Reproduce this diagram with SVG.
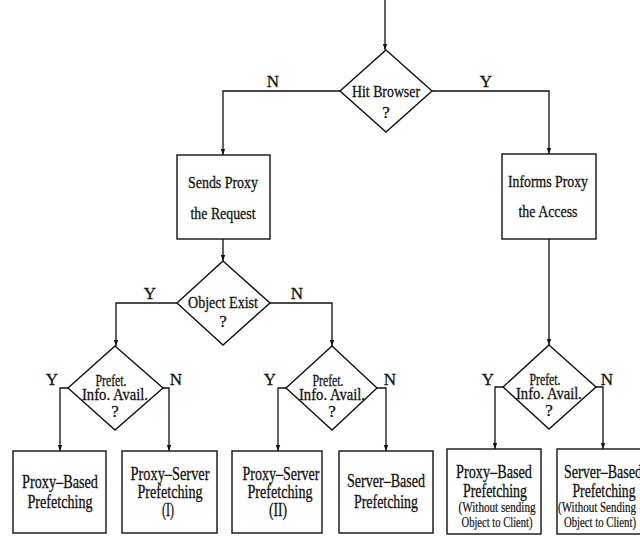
<svg xmlns="http://www.w3.org/2000/svg" width="640" height="536" viewBox="0 0 640 536">
  <style>
    .shape { fill: #fff; stroke: #111; stroke-width: 1.4; }
    .wire { fill: none; stroke: #111; stroke-width: 1.3; }
    text { font-family: "Liberation Serif", "Times New Roman", serif; fill: #111; stroke: #111; stroke-width: 0.3; text-anchor: middle; }
    .q { font-size: 17px; }
    .b { font-size: 19px; }
    .s { font-size: 14px; stroke-width: 0.2; }
    .yn { font-size: 17px; }
  </style>
  <defs>
    <marker id="arr" viewBox="0 0 6 6" refX="6" refY="3" markerWidth="6" markerHeight="6" markerUnits="userSpaceOnUse" orient="auto">
      <path d="M0,0.8 L6,3 L0,5.2 Z" fill="#111"/>
    </marker>
  </defs>
  <rect width="640" height="536" fill="#fff"/>

  <!-- connectors -->
  <g id="connectors">
    <path class="wire" d="M385,0 V50" marker-end="url(#arr)"/>
    <path class="wire" d="M340,91 H223 V155" marker-end="url(#arr)"/>
    <path class="wire" d="M432,91 H549 V154" marker-end="url(#arr)"/>
    <path class="wire" d="M223,239 V261" marker-end="url(#arr)"/>
    <path class="wire" d="M549,239 V345" marker-end="url(#arr)"/>
    <path class="wire" d="M177,303 H116 V346" marker-end="url(#arr)"/>
    <path class="wire" d="M270,303 H332 V346" marker-end="url(#arr)"/>
    <path class="wire" d="M68,388 H60 V451" marker-end="url(#arr)"/>
    <path class="wire" d="M163,388 H169 V451" marker-end="url(#arr)"/>
    <path class="wire" d="M286,388 H278 V451" marker-end="url(#arr)"/>
    <path class="wire" d="M377,388 H386 V451" marker-end="url(#arr)"/>
    <path class="wire" d="M503,387 H495 V449" marker-end="url(#arr)"/>
    <path class="wire" d="M596,387 H603 V449" marker-end="url(#arr)"/>
    <text class="yn" x="273" y="87">N</text>
    <text class="yn" x="486" y="87">Y</text>
    <text class="yn" x="150" y="299">Y</text>
    <text class="yn" x="297" y="299">N</text>
    <text class="yn" x="52" y="385">Y</text>
    <text class="yn" x="176" y="385">N</text>
    <text class="yn" x="270" y="385">Y</text>
    <text class="yn" x="390" y="385">N</text>
    <text class="yn" x="488" y="385">Y</text>
    <text class="yn" x="607" y="385">N</text>
  </g>

  <!-- decisions -->
  <g id="hit-browser">
    <polygon class="shape" points="386,50 432,91 386,132 340,91"/>
    <text class="q" x="386" y="97" textLength="68" lengthAdjust="spacingAndGlyphs">Hit Browser</text>
    <text class="q" x="386" y="118">?</text>
  </g>
  <g id="object-exist">
    <polygon class="shape" points="223,261 270,303 223,345 177,303"/>
    <text class="q" x="223" y="308" textLength="70" lengthAdjust="spacingAndGlyphs">Object Exist</text>
    <text class="q" x="223" y="327">?</text>
  </g>
  <g id="prefet-1">
    <polygon class="shape" points="115,346 163,388 115,430 68,388"/>
    <text class="q" x="111" y="386" textLength="31" lengthAdjust="spacingAndGlyphs">Prefet.</text>
    <text class="q" x="115" y="400" textLength="66" lengthAdjust="spacingAndGlyphs">Info. Avail.</text>
    <text class="q" x="115" y="417">?</text>
  </g>
  <g id="prefet-2">
    <polygon class="shape" points="332,346 377,388 332,430 286,388"/>
    <text class="q" x="328" y="386" textLength="31" lengthAdjust="spacingAndGlyphs">Prefet.</text>
    <text class="q" x="332" y="400" textLength="66" lengthAdjust="spacingAndGlyphs">Info. Avail.</text>
    <text class="q" x="332" y="417">?</text>
  </g>
  <g id="prefet-3">
    <polygon class="shape" points="549,345 596,387 549,429 503,387"/>
    <text class="q" x="545" y="385" textLength="31" lengthAdjust="spacingAndGlyphs">Prefet.</text>
    <text class="q" x="549" y="399" textLength="66" lengthAdjust="spacingAndGlyphs">Info. Avail.</text>
    <text class="q" x="549" y="416">?</text>
  </g>

  <!-- actions -->
  <g id="sends-proxy">
    <rect class="shape" x="177" y="155" width="93" height="84"/>
    <text class="q" x="223" y="188" textLength="70" lengthAdjust="spacingAndGlyphs">Sends Proxy</text>
    <text class="q" x="223" y="219" textLength="65" lengthAdjust="spacingAndGlyphs">the Request</text>
  </g>
  <g id="informs-proxy">
    <rect class="shape" x="502" y="154" width="94" height="85"/>
    <text class="q" x="548" y="187" textLength="80" lengthAdjust="spacingAndGlyphs">Informs Proxy</text>
    <text class="q" x="548" y="217" textLength="59" lengthAdjust="spacingAndGlyphs">the Access</text>
  </g>

  <!-- outcomes -->
  <g id="proxy-based">
    <rect class="shape" x="13" y="451" width="93" height="82"/>
    <text class="b" x="60" y="488" textLength="76" lengthAdjust="spacingAndGlyphs">Proxy–Based</text>
    <text class="b" x="60" y="508" textLength="65" lengthAdjust="spacingAndGlyphs">Prefetching</text>
  </g>
  <g id="proxy-server-1">
    <rect class="shape" x="122" y="451" width="95" height="82"/>
    <text class="b" x="170" y="480" textLength="79" lengthAdjust="spacingAndGlyphs">Proxy–Server</text>
    <text class="b" x="170" y="498" textLength="65" lengthAdjust="spacingAndGlyphs">Prefetching</text>
    <text class="b" x="168" y="516" textLength="12" lengthAdjust="spacingAndGlyphs">(I)</text>
  </g>
  <g id="proxy-server-2">
    <rect class="shape" x="232" y="451" width="90" height="82"/>
    <text class="b" x="281" y="480" textLength="77" lengthAdjust="spacingAndGlyphs">Proxy–Server</text>
    <text class="b" x="280" y="498" textLength="65" lengthAdjust="spacingAndGlyphs">Prefetching</text>
    <text class="b" x="278" y="516" textLength="18" lengthAdjust="spacingAndGlyphs">(II)</text>
  </g>
  <g id="server-based">
    <rect class="shape" x="339" y="451" width="94" height="82"/>
    <text class="b" x="386" y="487" textLength="78" lengthAdjust="spacingAndGlyphs">Server–Based</text>
    <text class="b" x="386" y="508" textLength="64" lengthAdjust="spacingAndGlyphs">Prefetching</text>
  </g>
  <g id="proxy-based-nosend">
    <rect class="shape" x="447" y="449" width="94" height="85"/>
    <text class="b" x="494" y="478" textLength="76" lengthAdjust="spacingAndGlyphs">Proxy–Based</text>
    <text class="b" x="495" y="497" textLength="64" lengthAdjust="spacingAndGlyphs">Prefetching</text>
    <text class="s" x="497" y="512" textLength="77" lengthAdjust="spacingAndGlyphs">(Without sending</text>
    <text class="s" x="497" y="527" textLength="71" lengthAdjust="spacingAndGlyphs">Object to Client)</text>
  </g>
  <g id="server-based-nosend">
    <rect class="shape" x="557" y="449" width="94" height="85"/>
    <text class="b" x="603" y="478" textLength="78" lengthAdjust="spacingAndGlyphs">Server–Based</text>
    <text class="b" x="604" y="497" textLength="63" lengthAdjust="spacingAndGlyphs">Prefetching</text>
    <text class="s" x="597" y="512" textLength="78" lengthAdjust="spacingAndGlyphs">(Without Sending</text>
    <text class="s" x="600" y="527" textLength="72" lengthAdjust="spacingAndGlyphs">Object to Client)</text>
  </g>
</svg>
